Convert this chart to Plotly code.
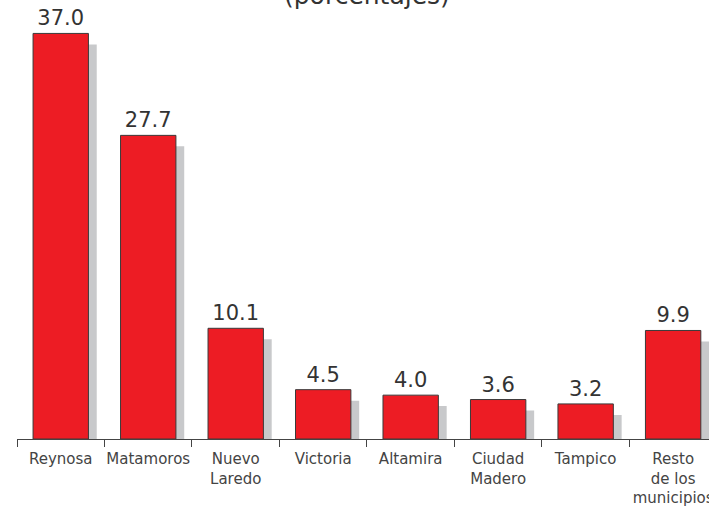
import plotly.graph_objects as go

categories = ["Reynosa", "Matamoros", "Nuevo<br>Laredo", "Victoria", "Altamira",
              "Ciudad<br>Madero", "Tampico", "Resto<br>de los<br>municipios"]
values = [37.0, 27.7, 10.1, 4.5, 4.0, 3.6, 3.2, 9.9]
title_text = "(porcentajes)"

RED = "#ED1C24"
SHADOW = "#C8C9CB"
BAR_W = 0.633
SHADOW_DX = 0.095
SHADOW_DY = -1.0

fig = go.Figure()
fig.add_trace(go.Bar(
    x=categories, y=values, base=SHADOW_DY,
    width=BAR_W, offset=-BAR_W / 2 + SHADOW_DX,
    marker=dict(color=SHADOW, line=dict(width=0)),
    hoverinfo="skip", showlegend=False,
))
fig.add_trace(go.Bar(
    x=categories, y=values,
    width=BAR_W, offset=-BAR_W / 2,
    marker=dict(color=RED, line=dict(color="#3a3a3a", width=1)),
    texttemplate="%{y:.1f}", textposition="outside",
    textfont=dict(family="DejaVu Sans", size=21, color="#333333"),
    constraintext="none", cliponaxis=False, showlegend=False,
))

fig.add_annotation(
    text=title_text, xref="paper", yref="paper", x=0.506, y=1,
    xanchor="center", yanchor="bottom", yshift=-12, showarrow=False,
    font=dict(family="DejaVu Sans", size=25, color="#333333"),
)

fig.update_layout(
    width=709, height=508,
    margin=dict(l=17, r=0, t=0, b=69, autoexpand=False),
    paper_bgcolor="white", plot_bgcolor="white",
    barmode="overlay",
    font=dict(family="DejaVu Sans", color="#444444"),
    xaxis=dict(
        type="category", range=[-0.5, 7.41], automargin=False, tickangle=0,
        showline=True, linecolor="#444444", linewidth=1,
        ticks="outside", ticklen=7, tickcolor="#444444", tickson="boundaries",
        ticklabelstandoff=6,
        tickfont=dict(family="DejaVu Sans", size=15, color="#444444"),
        showgrid=False, zeroline=False,
    ),
    yaxis=dict(visible=False, range=[0, 40.05], showgrid=False, zeroline=False,
               automargin=False),
)

fig.write_html(
    "out.html",
    config={"displayModeBar": False},
    post_script="document.body.style.margin='0';document.body.style.overflow='hidden';",
)
